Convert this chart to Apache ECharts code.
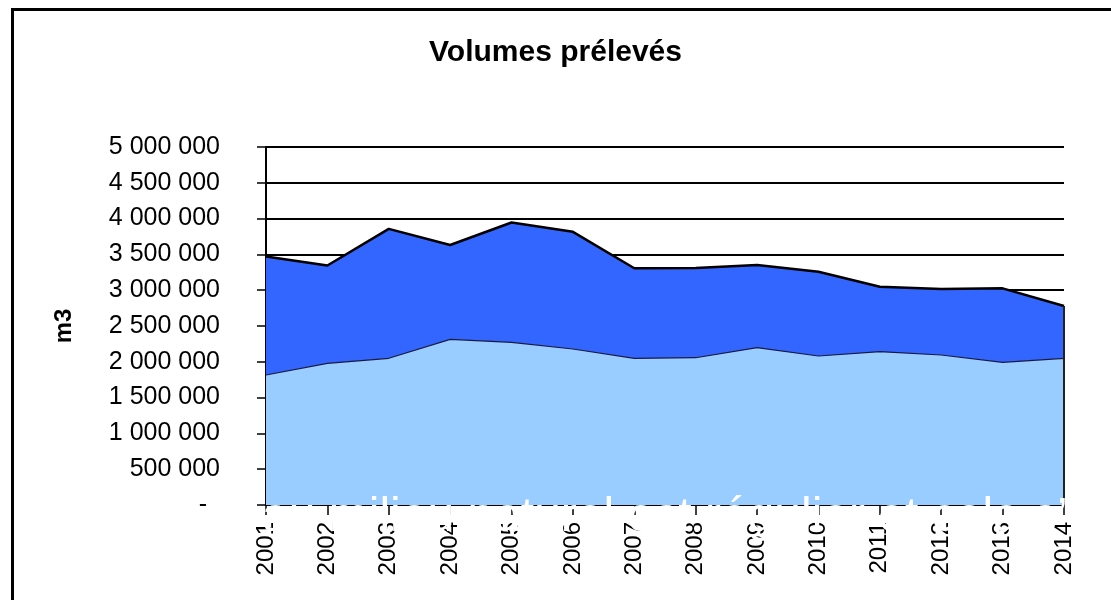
<!DOCTYPE html>
<html>
<head>
<meta charset="utf-8">
<script src="https://cdn.jsdelivr.net/npm/echarts@6/dist/echarts.min.js"></script>
<style>
  body { margin: 0; padding: 0; background: #fff; }
  #chart { width: 1111px; height: 600px; }
</style>
</head>
<body>
<div id="chart"></div>
<script>
  // years on the x axis
  var years = ['2001','2002','2003','2004','2005','2006','2007','2008','2009','2010','2011','2012','2013','2014'];
  // total volume (top of dark area)
  var totalVolumes = [3470000,3345000,3857000,3631000,3945000,3815000,3307000,3310000,3352000,3258000,3049000,3017000,3026000,2779000];
  // lower part (light area)
  var lowerVolumes = [1816000,1979000,2049000,2314000,2272000,2179000,2049000,2057000,2197000,2081000,2141000,2095000,1993000,2049000];

  var font = "'Liberation Sans', Arial, sans-serif";

  function fmt(v) {
    return String(v).replace(/\B(?=(\d{3})+(?!\d))/g, ' ');
  }

  var chart = echarts.init(document.getElementById('chart'));
  var option = {
    backgroundColor: '#fff',
    animation: false,
    title: {
      text: 'Volumes prélevés',
      left: 'center',
      top: 33,
      textStyle: { fontFamily: font, fontSize: 30, fontWeight: 'bold', color: '#000' }
    },
    grid: { left: 266, right: 47, top: 147, bottom: 95 },
    xAxis: {
      type: 'category',
      data: years,
      boundaryGap: false,
      axisLine: { lineStyle: { color: '#000', width: 2 } },
      axisTick: { length: 10, lineStyle: { color: '#000', width: 1.5 } },
      axisLabel: {
        rotate: 90, interval: 0, margin: 17,
        fontFamily: font, fontSize: 24, color: '#000'
      }
    },
    yAxis: {
      type: 'value',
      min: 0, max: 5000000, interval: 500000,
      name: 'm3',
      nameLocation: 'middle',
      nameGap: 190,
      nameTextStyle: { fontFamily: font, fontSize: 24, fontWeight: 'bold', color: '#000' },
      axisLine: { show: true, lineStyle: { color: '#000', width: 2 } },
      axisTick: { show: true, length: 9, lineStyle: { color: '#000', width: 1.5 } },
      splitLine: { lineStyle: { color: '#000', width: 2 } },
      axisLabel: {
        margin: 46,
        fontFamily: font, fontSize: 25, color: '#000',
        formatter: function (v) { return v === 0 ? '{z|-}' : fmt(v); },
        rich: { z: { fontFamily: font, fontSize: 25, color: '#000', padding: [0, 13, 0, 0] } }
      }
    },
    series: [
      {
        name: 'Total',
        type: 'line',
        data: totalVolumes,
        symbol: 'none',
        z: 2,
        lineStyle: { color: '#000', width: 2.5 },
        areaStyle: { color: '#3366FF', opacity: 1 },
        markLine: {
          silent: true,
          symbol: 'none',
          label: { show: false },
          lineStyle: { color: '#222', width: 2, type: 'solid' },
          data: [[
            { coord: [years[years.length - 1], 0] },
            { coord: [years[years.length - 1], totalVolumes[totalVolumes.length - 1]] }
          ]]
        }
      },
      {
        name: 'Partie basse',
        type: 'line',
        data: lowerVolumes,
        symbol: 'none',
        z: 3,
        lineStyle: { color: '#1a1a40', width: 1.2 },
        areaStyle: { color: '#99CCFF', opacity: 1 }
      }
    ],
    graphic: [
      {
        type: 'rect',
        left: 10, top: 7,
        shape: { width: 1200, height: 700 },
        style: { fill: 'none', stroke: '#000', lineWidth: 3 },
        z: 1
      },
      {
        type: 'text',
        x: 262, y: 542,
        z: 100,
        style: {
          text: 'au milieu naturel est régulier et cela s’',
          font: '48px ' + font,
          fill: '#fff',
          textVerticalAlign: 'bottom'
        }
      }
    ]
  };
  chart.setOption(option);
</script>
</body>
</html>
